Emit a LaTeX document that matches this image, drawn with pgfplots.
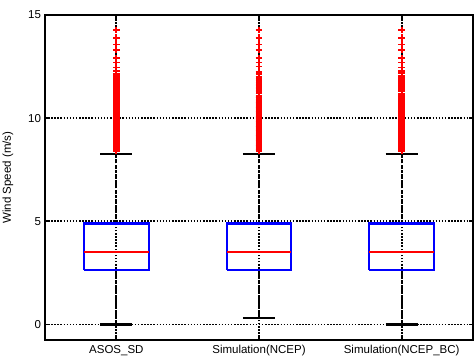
\documentclass[border=0pt]{standalone}
\usepackage{pgfplots}
\pgfplotsset{compat=1.18}
\usepackage{pgfplotstable}
\usepackage{fontspec}
\setmainfont{Liberation Sans}
\pgfplotstableread{
x y
1 8.40
1 8.44
1 8.48
1 8.52
1 8.56
1 8.60
1 8.64
1 8.68
1 8.72
1 8.76
1 8.80
1 8.84
1 8.88
1 8.92
1 8.96
1 9.00
1 9.04
1 9.08
1 9.12
1 9.16
1 9.20
1 9.24
1 9.28
1 9.32
1 9.36
1 9.40
1 9.44
1 9.48
1 9.52
1 9.56
1 9.60
1 9.64
1 9.68
1 9.72
1 9.76
1 9.80
1 9.84
1 9.88
1 9.92
1 9.96
1 10.00
1 10.04
1 10.08
1 10.12
1 10.16
1 10.20
1 10.24
1 10.28
1 10.32
1 10.36
1 10.40
1 10.44
1 10.48
1 10.52
1 10.56
1 10.60
1 10.64
1 10.68
1 10.72
1 10.76
1 10.80
1 10.84
1 10.88
1 10.92
1 10.96
1 11.00
1 11.05
1 11.10
1 11.15
1 11.20
1 11.25
1 11.30
1 11.40
1 11.45
1 11.50
1 11.55
1 11.60
1 11.70
1 11.75
1 11.85
1 11.95
1 12.05
1 12.15
1 12.30
1 12.46
1 12.70
1 12.90
1 13.30
1 13.57
1 13.90
1 14.28
}\outA
\pgfplotstableread{
x y
2 8.40
2 8.44
2 8.48
2 8.52
2 8.56
2 8.60
2 8.64
2 8.68
2 8.72
2 8.76
2 8.80
2 8.84
2 8.88
2 8.92
2 8.96
2 9.00
2 9.04
2 9.08
2 9.12
2 9.16
2 9.20
2 9.24
2 9.28
2 9.32
2 9.36
2 9.40
2 9.44
2 9.48
2 9.52
2 9.56
2 9.60
2 9.64
2 9.68
2 9.72
2 9.76
2 9.80
2 9.84
2 9.88
2 9.92
2 9.96
2 10.00
2 10.04
2 10.08
2 10.12
2 10.16
2 10.20
2 10.24
2 10.28
2 10.32
2 10.36
2 10.40
2 10.44
2 10.48
2 10.52
2 10.56
2 10.60
2 10.64
2 10.68
2 10.72
2 10.76
2 10.80
2 10.84
2 10.90
2 10.96
2 11.00
2 11.05
2 11.10
2 11.20
2 11.25
2 11.30
2 11.40
2 11.45
2 11.55
2 11.60
2 11.70
2 11.80
2 11.90
2 12.00
2 12.15
2 12.25
2 12.50
2 12.70
2 12.90
2 13.30
2 13.57
2 13.90
2 14.28
}\outB
\pgfplotstableread{
x y
3 8.40
3 8.44
3 8.48
3 8.52
3 8.56
3 8.60
3 8.64
3 8.68
3 8.72
3 8.76
3 8.80
3 8.84
3 8.88
3 8.92
3 8.96
3 9.00
3 9.04
3 9.08
3 9.12
3 9.16
3 9.20
3 9.24
3 9.28
3 9.32
3 9.36
3 9.40
3 9.44
3 9.48
3 9.52
3 9.56
3 9.60
3 9.64
3 9.68
3 9.72
3 9.76
3 9.80
3 9.84
3 9.88
3 9.92
3 9.96
3 10.00
3 10.04
3 10.08
3 10.12
3 10.16
3 10.20
3 10.24
3 10.28
3 10.32
3 10.36
3 10.40
3 10.44
3 10.48
3 10.52
3 10.56
3 10.60
3 10.64
3 10.68
3 10.72
3 10.76
3 10.80
3 10.84
3 10.88
3 10.92
3 10.96
3 11.00
3 11.05
3 11.10
3 11.15
3 11.20
3 11.30
3 11.35
3 11.40
3 11.50
3 11.55
3 11.65
3 11.75
3 11.85
3 11.95
3 12.05
3 12.20
3 12.30
3 12.46
3 12.70
3 12.90
3 13.30
3 13.57
3 13.90
3 14.28
}\outC
\begin{document}
\fontsize{11.5}{13}\selectfont
\begin{tikzpicture}
\begin{axis}[
  name=ax,
  scale only axis,
  width=428pt, height=325pt,
  xmin=0.5, xmax=3.5,
  ymin=-0.75, ymax=15,
  xtick={1,2,3},
  xticklabels={ASOS\_SD, Simulation(NCEP), Simulation(NCEP\_BC)},
  ytick={0,5,10,15},
  grid=major,
  major grid style={black, line width=1.7pt, dash pattern=on 1.5pt off 1.6pt},
  axis line style={black, line width=1.8pt},
  tick align=inside,
  major tick length=4pt,
  tick style={black, line width=1.8pt},
  /pgf/number format/assume math mode=true,
  tick label style={font=\fontsize{11.5}{13}\selectfont},
  label style={font=\fontsize{11.5}{13}\selectfont},
  ylabel={Wind Speed (m/s)},
  ylabel style={at={(axis description cs:-0.065,0.5)}},
  xticklabel style={yshift=-1pt},
  clip=false,
]
% whiskers (dashed)
\addplot[black, line width=1.8pt, dash pattern=on 3.5pt off 1.5pt] coordinates {(1,4.9) (1,8.25)};
\addplot[black, line width=1.8pt, dash pattern=on 3.5pt off 1.5pt] coordinates {(1,2.64) (1,0)};
\addplot[black, line width=1.8pt, dash pattern=on 3.5pt off 1.5pt] coordinates {(2,4.9) (2,8.25)};
\addplot[black, line width=1.8pt, dash pattern=on 3.5pt off 1.5pt] coordinates {(2,2.64) (2,0.32)};
\addplot[black, line width=1.8pt, dash pattern=on 3.5pt off 1.5pt] coordinates {(3,4.9) (3,8.25)};
\addplot[black, line width=1.8pt, dash pattern=on 3.5pt off 1.5pt] coordinates {(3,2.64) (3,0)};
% caps
\addplot[black, line width=2.3pt] coordinates {(0.887,8.25) (1.113,8.25)};
\addplot[black, line width=2.3pt] coordinates {(0.887,0) (1.113,0)};
\addplot[black, line width=2.3pt] coordinates {(1.887,8.25) (2.113,8.25)};
\addplot[black, line width=2.3pt] coordinates {(1.887,0.32) (2.113,0.32)};
\addplot[black, line width=2.3pt] coordinates {(2.887,8.25) (3.113,8.25)};
\addplot[black, line width=2.3pt] coordinates {(2.887,0) (3.113,0)};
% boxes
\addplot[blue, line width=2.2pt] coordinates {(0.773,2.64) (1.227,2.64) (1.227,4.9) (0.773,4.9) (0.773,2.64)};
\addplot[blue, line width=2.2pt] coordinates {(1.773,2.64) (2.227,2.64) (2.227,4.9) (1.773,4.9) (1.773,2.64)};
\addplot[blue, line width=2.2pt] coordinates {(2.773,2.64) (3.227,2.64) (3.227,4.9) (2.773,4.9) (2.773,2.64)};
% medians
\addplot[red, line width=2.2pt] coordinates {(0.773,3.53) (1.227,3.53)};
\addplot[red, line width=2.2pt] coordinates {(1.773,3.53) (2.227,3.53)};
\addplot[red, line width=2.2pt] coordinates {(2.773,3.53) (3.227,3.53)};
% outliers
\addplot[only marks, mark=+, red, mark size=3.3pt, line width=1.8pt] table[x=x,y=y] {\outA};
\addplot[only marks, mark=+, red, mark size=3.3pt, line width=1.8pt] table[x=x,y=y] {\outB};
\addplot[only marks, mark=+, red, mark size=3.3pt, line width=1.8pt] table[x=x,y=y] {\outC};
\end{axis}
\pgfresetboundingbox
\path[use as bounding box] ([xshift=-45pt,yshift=-18pt]ax.south west) rectangle ([xshift=2pt,yshift=15pt]ax.north east);
\end{tikzpicture}
\end{document}
